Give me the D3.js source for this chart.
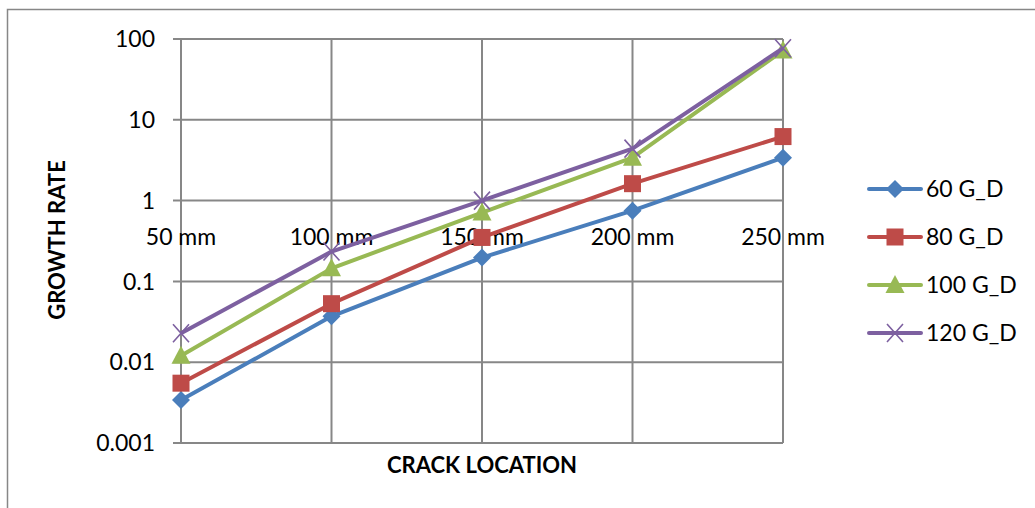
<!DOCTYPE html>
<html>
<head>
<meta charset="utf-8">
<script src="https://cdn.jsdelivr.net/npm/d3@7"></script>
<style>
  html, body { margin: 0; padding: 0; background: #fff; }
  svg text { font-family: Lato, "Open Sans", sans-serif; fill: #000; }
</style>
</head>
<body>
<svg id="chart" width="1035" height="508"></svg>
<script>
// Crack growth rate by crack location for four G_D levels
const locations = ["50 mm", "100 mm", "150 mm", "200 mm", "250 mm"];
const seriesNames = ["60 G_D", "80 G_D", "100 G_D", "120 G_D"];
const gd60  = [0.0034, 0.037, 0.197, 0.75, 3.4];
const gd80  = [0.0055, 0.053, 0.35, 1.62, 6.2];
const gd100 = [0.012, 0.145, 0.71, 3.4, 72];
const gd120 = [0.0228, 0.234, 1.0, 4.4, 77];
const yTicks = [0.001, 0.01, 0.1, 1, 10, 100];
const yTickLabels = ["0.001", "0.01", "0.1", "1", "10", "100"];

const colors = ["#4A7EBB", "#BE4B48", "#98B954", "#7D60A0"];
const shapes = ["diamond", "square", "triangle", "cross"];
const seriesValues = [gd60, gd80, gd100, gd120];

const svg = d3.select("#chart");
const grid = "#878787";
const labelSize = 23;
const titleSize = 22;

// outer chart frame (top and left edges)
svg.append("path")
  .attr("d", "M7.5,508 L7.5,9.5 L1035,9.5")
  .attr("fill", "none").attr("stroke", grid).attr("stroke-width", 1.5);

const x = d3.scalePoint().domain(locations).range([181, 783]);
const y = d3.scaleLog().domain([0.001, 100]).range([443, 39]);

// horizontal gridlines with left ticks
svg.append("g").selectAll("line").data(yTicks).join("line")
  .attr("x1", 173).attr("x2", 783)
  .attr("y1", d => y(d)).attr("y2", d => y(d))
  .attr("stroke", grid).attr("stroke-width", 2);

// vertical gridlines at each location
svg.append("g").selectAll("line").data(locations).join("line")
  .attr("x1", d => x(d)).attr("x2", d => x(d))
  .attr("y1", y(100)).attr("y2", y(0.001))
  .attr("stroke", grid).attr("stroke-width", 2);

// y tick labels
svg.append("g").selectAll("text").data(yTicks).join("text")
  .attr("x", 155).attr("y", d => y(d))
  .attr("dy", "0.36em")
  .attr("text-anchor", "end")
  .attr("font-size", labelSize)
  .text((d, i) => yTickLabels[i]);

// category labels sit just under the axis crossing at 1
svg.append("g").selectAll("text").data(locations).join("text")
  .attr("x", d => x(d)).attr("y", y(1) + 44)
  .attr("text-anchor", "middle")
  .attr("font-size", labelSize)
  .text(d => d);

// axis titles
svg.append("text")
  .attr("x", 482).attr("y", 473)
  .attr("text-anchor", "middle")
  .attr("font-size", titleSize).attr("font-weight", "bold")
  .text("CRACK LOCATION");
svg.append("text")
  .attr("transform", "translate(65,240) rotate(-90)")
  .attr("text-anchor", "middle")
  .attr("font-size", titleSize).attr("font-weight", "bold")
  .text("GROWTH RATE");

function marker(g, shape, color, cx, cy) {
  if (shape === "diamond") {
    g.append("path").attr("d", `M${cx},${cy - 9} L${cx + 9},${cy} L${cx},${cy + 9} L${cx - 9},${cy} Z`)
      .attr("fill", color);
  } else if (shape === "square") {
    g.append("rect").attr("x", cx - 8.5).attr("y", cy - 8.5)
      .attr("width", 17).attr("height", 17).attr("fill", color);
  } else if (shape === "triangle") {
    g.append("path").attr("d", `M${cx},${cy - 10} L${cx + 9.5},${cy + 8} L${cx - 9.5},${cy + 8} Z`)
      .attr("fill", color);
  } else {
    g.append("path").attr("d", `M${cx - 8},${cy - 9} L${cx + 8},${cy + 9} M${cx - 8},${cy + 9} L${cx + 8},${cy - 9}`)
      .attr("stroke", color).attr("stroke-width", 1.6).attr("fill", "none");
  }
}

const line = d3.line().x((d, i) => x(locations[i])).y(d => y(d));

seriesValues.forEach((vals, s) => {
  const g = svg.append("g");
  g.append("path").datum(vals).attr("d", line)
    .attr("fill", "none").attr("stroke", colors[s])
    .attr("stroke-width", 4).attr("stroke-linejoin", "round");
  vals.forEach((v, i) => marker(g, shapes[s], colors[s], x(locations[i]), y(v)));
});

// legend
const legendRows = [189, 237, 285, 333];
seriesNames.forEach((name, s) => {
  const g = svg.append("g");
  const ly = legendRows[s];
  g.append("line").attr("x1", 869).attr("x2", 921).attr("y1", ly).attr("y2", ly)
    .attr("stroke", colors[s]).attr("stroke-width", 4).attr("stroke-linecap", "round");
  marker(g, shapes[s], colors[s], 895, ly);
  g.append("text").attr("x", 926).attr("y", ly).attr("dy", "0.36em")
    .attr("font-size", labelSize).text(name);
});
</script>
</body>
</html>
